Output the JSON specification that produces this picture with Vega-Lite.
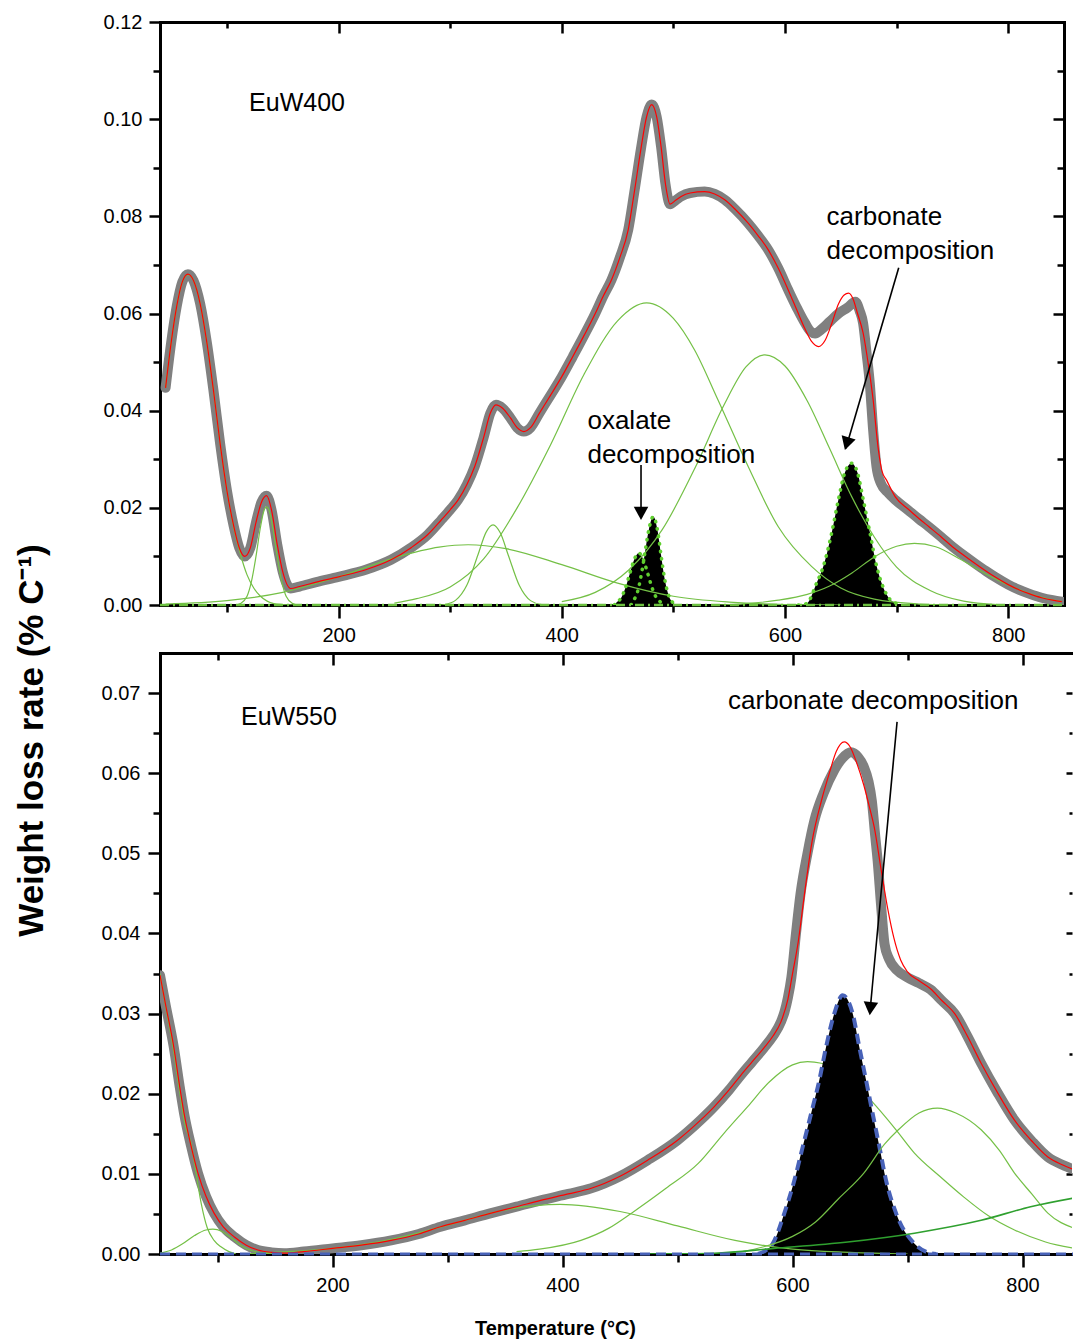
{
"$schema":"https://vega.github.io/schema/vega-lite/v6.json",
"padding":{"left":13,"top":12,"right":0,"bottom":4},
"background":"white",
"config":{
 "view":{"stroke":null},
 "axis":{"grid":false,"zindex":1,"domainColor":"black","domainWidth":3,"domainCap":"square","tickColor":"black","tickWidth":2.5,"labelFont":"Liberation Sans","labelFontSize":20,"labelColor":"black","labelFlush":false,"labelOverlap":false,"titleFont":"Liberation Sans","titleColor":"black"},
 "text":{"font":"Liberation Sans","color":"black"}
},
"spacing":48,
"bounds":"flush",
"datasets":{
 "tGrey":[{"x":45,"y":0.0447},{"x":50,"y":0.054},{"x":55,"y":0.0615},{"x":60,"y":0.0665},{"x":65,"y":0.0681},{"x":70,"y":0.0668},{"x":76,"y":0.062},{"x":82,"y":0.054},{"x":88,"y":0.044},{"x":94,"y":0.033},{"x":100,"y":0.0235},{"x":106,"y":0.0163},{"x":111,"y":0.0118},{"x":116,"y":0.0100},{"x":121,"y":0.0118},{"x":126,"y":0.0170},{"x":131,"y":0.0212},{"x":135.5,"y":0.0225},{"x":140,"y":0.0195},{"x":145,"y":0.0125},{"x":150,"y":0.0068},{"x":157,"y":0.0034},{"x":165,"y":0.0038},{"x":180,"y":0.0047},{"x":200,"y":0.0058},{"x":225,"y":0.0073},{"x":247,"y":0.0093},{"x":265,"y":0.0118},{"x":280,"y":0.0145},{"x":292,"y":0.0175},{"x":300,"y":0.0196},{"x":307,"y":0.0216},{"x":315,"y":0.0248},{"x":322,"y":0.0285},{"x":330,"y":0.0345},{"x":336,"y":0.0395},{"x":341,"y":0.0412},{"x":347,"y":0.0405},{"x":354,"y":0.0385},{"x":360,"y":0.0365},{"x":366,"y":0.0357},{"x":372,"y":0.0365},{"x":380,"y":0.0395},{"x":390,"y":0.0432},{"x":400,"y":0.0470},{"x":410,"y":0.0512},{"x":420,"y":0.0555},{"x":430,"y":0.0600},{"x":437,"y":0.0635},{"x":444.5,"y":0.0669},{"x":452,"y":0.0715},{"x":459.5,"y":0.0772},{"x":465,"y":0.085},{"x":471,"y":0.094},{"x":476,"y":0.1005},{"x":480.5,"y":0.1030},{"x":485,"y":0.1005},{"x":489,"y":0.0943},{"x":493,"y":0.0865},{"x":497,"y":0.0825},{"x":502,"y":0.0833},{"x":507,"y":0.0841},{"x":515,"y":0.0848},{"x":528,"y":0.0851},{"x":537,"y":0.0846},{"x":546,"y":0.0834},{"x":556,"y":0.0813},{"x":567,"y":0.0786},{"x":576,"y":0.0760},{"x":585,"y":0.0731},{"x":594,"y":0.0693},{"x":603,"y":0.0648},{"x":611,"y":0.0610},{"x":618,"y":0.0580},{"x":623,"y":0.0563},{"x":627,"y":0.0559},{"x":633,"y":0.0568},{"x":640,"y":0.0583},{"x":648,"y":0.0600},{"x":656,"y":0.0612},{"x":663,"y":0.0624},{"x":667,"y":0.0605},{"x":670,"y":0.058},{"x":673,"y":0.052},{"x":676,"y":0.0456},{"x":679,"y":0.036},{"x":682,"y":0.0285},{"x":686,"y":0.0250},{"x":692,"y":0.0232},{"x":699,"y":0.0216},{"x":710,"y":0.0196},{"x":720,"y":0.0177},{"x":729,"y":0.0161},{"x":740,"y":0.0140},{"x":750,"y":0.0120},{"x":758,"y":0.0106},{"x":770,"y":0.0086},{"x":780,"y":0.0070},{"x":788,"y":0.0058},{"x":800,"y":0.0042},{"x":810,"y":0.0031},{"x":818,"y":0.0024},{"x":830,"y":0.0015},{"x":840,"y":0.0010},{"x":848,"y":0.0007}],
 "tRed":[{"x":45,"y":0.0447},{"x":50,"y":0.054},{"x":55,"y":0.0615},{"x":60,"y":0.0665},{"x":65,"y":0.0681},{"x":70,"y":0.0668},{"x":76,"y":0.062},{"x":82,"y":0.054},{"x":88,"y":0.044},{"x":94,"y":0.033},{"x":100,"y":0.0235},{"x":106,"y":0.0163},{"x":111,"y":0.0118},{"x":116,"y":0.0100},{"x":121,"y":0.0118},{"x":126,"y":0.0170},{"x":131,"y":0.0212},{"x":135.5,"y":0.0225},{"x":140,"y":0.0195},{"x":145,"y":0.0125},{"x":150,"y":0.0068},{"x":157,"y":0.0034},{"x":165,"y":0.0038},{"x":180,"y":0.0047},{"x":200,"y":0.0058},{"x":225,"y":0.0073},{"x":247,"y":0.0093},{"x":265,"y":0.0118},{"x":280,"y":0.0145},{"x":292,"y":0.0175},{"x":300,"y":0.0196},{"x":307,"y":0.0216},{"x":315,"y":0.0248},{"x":322,"y":0.0285},{"x":330,"y":0.0345},{"x":336,"y":0.0395},{"x":341,"y":0.0412},{"x":347,"y":0.0405},{"x":354,"y":0.0385},{"x":360,"y":0.0365},{"x":366,"y":0.0357},{"x":372,"y":0.0365},{"x":380,"y":0.0395},{"x":390,"y":0.0432},{"x":400,"y":0.0470},{"x":410,"y":0.0512},{"x":420,"y":0.0555},{"x":430,"y":0.0600},{"x":437,"y":0.0635},{"x":444.5,"y":0.0669},{"x":452,"y":0.0715},{"x":459.5,"y":0.0772},{"x":465,"y":0.085},{"x":471,"y":0.094},{"x":476,"y":0.1005},{"x":480.5,"y":0.1030},{"x":485,"y":0.1005},{"x":489,"y":0.0943},{"x":493,"y":0.0865},{"x":497,"y":0.0825},{"x":502,"y":0.0833},{"x":507,"y":0.0841},{"x":515,"y":0.0848},{"x":528,"y":0.0851},{"x":537,"y":0.0846},{"x":546,"y":0.0834},{"x":556,"y":0.0813},{"x":567,"y":0.0786},{"x":576,"y":0.0760},{"x":585,"y":0.0731},{"x":594,"y":0.0693},{"x":603,"y":0.0648},{"x":611,"y":0.0605},{"x":618,"y":0.0568},{"x":624,"y":0.0542},{"x":630,"y":0.0532},{"x":636,"y":0.0545},{"x":642,"y":0.0580},{"x":648,"y":0.0620},{"x":653,"y":0.0638},{"x":657,"y":0.0642},{"x":661,"y":0.0630},{"x":665,"y":0.0600},{"x":670,"y":0.0560},{"x":675,"y":0.0490},{"x":679,"y":0.0422},{"x":683.7,"y":0.0319},{"x":687,"y":0.0275},{"x":691,"y":0.0257},{"x":699,"y":0.0222},{"x":710,"y":0.0198},{"x":720,"y":0.0178},{"x":729,"y":0.0161},{"x":740,"y":0.0140},{"x":750,"y":0.0120},{"x":758,"y":0.0106},{"x":770,"y":0.0086},{"x":780,"y":0.0070},{"x":788,"y":0.0058},{"x":800,"y":0.0042},{"x":810,"y":0.0031},{"x":818,"y":0.0024},{"x":830,"y":0.0015},{"x":840,"y":0.0010},{"x":848,"y":0.0007}],
 "tGreen":[
  {"g":"G1","x":45,"y":0.0447},{"g":"G1","x":50,"y":0.054},{"g":"G1","x":55,"y":0.0615},{"g":"G1","x":60,"y":0.0665},{"g":"G1","x":65,"y":0.068},{"g":"G1","x":70,"y":0.0668},{"g":"G1","x":76,"y":0.062},{"g":"G1","x":82,"y":0.054},{"g":"G1","x":88,"y":0.044},{"g":"G1","x":94,"y":0.033},{"g":"G1","x":100,"y":0.0235},{"g":"G1","x":106,"y":0.016},{"g":"G1","x":112,"y":0.0105},{"g":"G1","x":118,"y":0.0062},{"g":"G1","x":124,"y":0.0035},{"g":"G1","x":130,"y":0.0018},{"g":"G1","x":136,"y":0.0008},{"g":"G1","x":142,"y":0.0003},{"g":"G1","x":150,"y":0.0001},{"g":"G1","x":160,"y":0},
  {"g":"G2","x":108,"y":0},{"g":"G2","x":112,"y":0.0003},{"g":"G2","x":118,"y":0.0018},{"g":"G2","x":122,"y":0.0049},{"g":"G2","x":126,"y":0.0100},{"g":"G2","x":130,"y":0.0160},{"g":"G2","x":133,"y":0.0193},{"g":"G2","x":135.5,"y":0.0202},{"g":"G2","x":138,"y":0.0193},{"g":"G2","x":141,"y":0.0160},{"g":"G2","x":145,"y":0.0100},{"g":"G2","x":149,"y":0.0049},{"g":"G2","x":153,"y":0.0018},{"g":"G2","x":159,"y":0.0003},{"g":"G2","x":163,"y":0},
  {"g":"G3","x":45,"y":0.0002},{"g":"G3","x":100,"y":0.0009},{"g":"G3","x":150,"y":0.0026},{"g":"G3","x":200,"y":0.0058},{"g":"G3","x":250,"y":0.0097},{"g":"G3","x":290,"y":0.0119},{"g":"G3","x":316,"y":0.0124},{"g":"G3","x":350,"y":0.0116},{"g":"G3","x":400,"y":0.0083},{"g":"G3","x":450,"y":0.0045},{"g":"G3","x":500,"y":0.0018},{"g":"G3","x":550,"y":0.0006},{"g":"G3","x":600,"y":0.0001},{"g":"G3","x":650,"y":0},
  {"g":"G4","x":290,"y":0},{"g":"G4","x":295,"y":0.0001},{"g":"G4","x":305,"y":0.001},{"g":"G4","x":315,"y":0.0041},{"g":"G4","x":325,"y":0.0104},{"g":"G4","x":332,"y":0.0149},{"g":"G4","x":338.4,"y":0.0165},{"g":"G4","x":345,"y":0.0148},{"g":"G4","x":352,"y":0.0103},{"g":"G4","x":362,"y":0.004},{"g":"G4","x":372,"y":0.0009},{"g":"G4","x":382,"y":0.0001},{"g":"G4","x":390,"y":0},
  {"g":"G5","x":250,"y":0.0004},{"g":"G5","x":270,"y":0.0013},{"g":"G5","x":300,"y":0.0037},{"g":"G5","x":330,"y":0.0095},{"g":"G5","x":360,"y":0.020},{"g":"G5","x":390,"y":0.033},{"g":"G5","x":420,"y":0.0475},{"g":"G5","x":450,"y":0.0585},{"g":"G5","x":476,"y":0.0622},{"g":"G5","x":500,"y":0.0590},{"g":"G5","x":519,"y":0.0525},{"g":"G5","x":540,"y":0.0422},{"g":"G5","x":567,"y":0.0285},{"g":"G5","x":594,"y":0.0161},{"g":"G5","x":624,"y":0.0079},{"g":"G5","x":650,"y":0.0035},{"g":"G5","x":680,"y":0.0012},{"g":"G5","x":720,"y":0.0002},{"g":"G5","x":750,"y":0},
  {"g":"G6","x":400,"y":0.0007},{"g":"G6","x":430,"y":0.0026},{"g":"G6","x":460,"y":0.0072},{"g":"G6","x":490,"y":0.0155},{"g":"G6","x":520,"y":0.0285},{"g":"G6","x":545,"y":0.041},{"g":"G6","x":565,"y":0.0490},{"g":"G6","x":582,"y":0.0515},{"g":"G6","x":600,"y":0.0492},{"g":"G6","x":620,"y":0.0420},{"g":"G6","x":640,"y":0.0322},{"g":"G6","x":660,"y":0.0222},{"g":"G6","x":680,"y":0.0140},{"g":"G6","x":700,"y":0.0078},{"g":"G6","x":730,"y":0.003},{"g":"G6","x":760,"y":0.0008},{"g":"G6","x":790,"y":0.0001},
  {"g":"G7","x":540,"y":0},{"g":"G7","x":560,"y":0.0002},{"g":"G7","x":594,"y":0.001},{"g":"G7","x":620,"y":0.0022},{"g":"G7","x":640,"y":0.0039},{"g":"G7","x":660,"y":0.0066},{"g":"G7","x":680,"y":0.0099},{"g":"G7","x":700,"y":0.0121},{"g":"G7","x":716,"y":0.0127},{"g":"G7","x":735,"y":0.0120},{"g":"G7","x":758,"y":0.0093},{"g":"G7","x":780,"y":0.0064},{"g":"G7","x":803,"y":0.0038},{"g":"G7","x":825,"y":0.0019},{"g":"G7","x":848,"y":0.0007}
 ],
 "tPeaks":[
  {"g":"ox1","x":447,"y":0},{"g":"ox1","x":449,"y":0.0005},{"g":"ox1","x":453,"y":0.0014},{"g":"ox1","x":457,"y":0.0035},{"g":"ox1","x":461,"y":0.0065},{"g":"ox1","x":465,"y":0.0094},{"g":"ox1","x":469,"y":0.0107},{"g":"ox1","x":473,"y":0.0094},{"g":"ox1","x":477,"y":0.0065},{"g":"ox1","x":481,"y":0.0035},{"g":"ox1","x":485,"y":0.0014},{"g":"ox1","x":489,"y":0.0005},{"g":"ox1","x":491,"y":0},
  {"g":"ox2","x":462,"y":0},{"g":"ox2","x":464,"y":0.0008},{"g":"ox2","x":468,"y":0.0028},{"g":"ox2","x":472,"y":0.0072},{"g":"ox2","x":475,"y":0.0115},{"g":"ox2","x":478,"y":0.0155},{"g":"ox2","x":482,"y":0.0182},{"g":"ox2","x":486,"y":0.0151},{"g":"ox2","x":489,"y":0.0102},{"g":"ox2","x":492,"y":0.0056},{"g":"ox2","x":496,"y":0.0018},{"g":"ox2","x":500,"y":0.0004},{"g":"ox2","x":502,"y":0},
  {"g":"carb","x":612,"y":0},{"g":"carb","x":619.4,"y":0.0003},{"g":"carb","x":628.3,"y":0.0045},{"g":"carb","x":634.3,"y":0.0079},{"g":"carb","x":641.8,"y":0.0148},{"g":"carb","x":647.8,"y":0.0216},{"g":"carb","x":653,"y":0.0268},{"g":"carb","x":659.7,"y":0.0292},{"g":"carb","x":665,"y":0.0272},{"g":"carb","x":670.2,"y":0.0216},{"g":"carb","x":676.2,"y":0.0148},{"g":"carb","x":682.2,"y":0.0079},{"g":"carb","x":686.6,"y":0.0045},{"g":"carb","x":692,"y":0.0018},{"g":"carb","x":700,"y":0.0003},{"g":"carb","x":705,"y":0}
 ],
 "tBase":[{"x":40,"y":0},{"x":850,"y":0}],
 "tLabel":[{"x":119.8,"y":0.1033,"t":"EuW400"}],
 "tNotes":[{"x":423,"y":0.0379,"t":"oxalate"},{"x":423,"y":0.0309,"t":"decomposition"},{"x":637.3,"y":0.0799,"t":"carbonate"},{"x":637.3,"y":0.0729,"t":"decomposition"}],
 "tArrows":[{"x":471,"y":0.0288,"x2":471,"y2":0.0180},{"x":701.9,"y":0.0694,"x2":654.5,"y2":0.0322}],
 "tHead1":[{"x":471,"y":0.0175}],
 "tHead2":[{"x":653.7,"y":0.0319}],
 "bGrey":[{"x":50,"y":0.0348},{"x":55,"y":0.031},{"x":62,"y":0.0258},{"x":67,"y":0.021},{"x":71,"y":0.0175},{"x":77,"y":0.0135},{"x":83,"y":0.0101},{"x":90,"y":0.0072},{"x":97,"y":0.0051},{"x":105,"y":0.0034},{"x":115,"y":0.0021},{"x":125,"y":0.0011},{"x":135,"y":0.0005},{"x":147,"y":0.0002},{"x":158,"y":0.0001},{"x":175,"y":0.0003},{"x":200,"y":0.0007},{"x":225,"y":0.0011},{"x":251,"y":0.0017},{"x":275,"y":0.0025},{"x":294,"y":0.0034},{"x":315,"y":0.0042},{"x":338,"y":0.0051},{"x":360,"y":0.0059},{"x":381,"y":0.0067},{"x":405,"y":0.0075},{"x":425,"y":0.0082},{"x":450,"y":0.0097},{"x":474,"y":0.0117},{"x":500,"y":0.0142},{"x":520,"y":0.0167},{"x":532,"y":0.0184},{"x":545,"y":0.0205},{"x":555,"y":0.0223},{"x":565,"y":0.0240},{"x":575,"y":0.0257},{"x":583,"y":0.0272},{"x":590,"y":0.029},{"x":593,"y":0.0302},{"x":596,"y":0.032},{"x":599,"y":0.0345},{"x":603,"y":0.040},{"x":607,"y":0.045},{"x":613,"y":0.050},{"x":619,"y":0.0541},{"x":627,"y":0.0575},{"x":636,"y":0.0603},{"x":643,"y":0.0618},{"x":651,"y":0.0626},{"x":657,"y":0.0620},{"x":662,"y":0.0608},{"x":666,"y":0.0590},{"x":669,"y":0.0565},{"x":672,"y":0.052},{"x":674,"y":0.0491},{"x":677,"y":0.0435},{"x":680,"y":0.0387},{"x":684,"y":0.0368},{"x":691,"y":0.0354},{"x":700,"y":0.0345},{"x":710,"y":0.0338},{"x":720,"y":0.0330},{"x":730,"y":0.0316},{"x":741,"y":0.0300},{"x":752,"y":0.0272},{"x":764,"y":0.0238},{"x":778,"y":0.0202},{"x":793,"y":0.0167},{"x":808,"y":0.0141},{"x":822,"y":0.0121},{"x":835,"y":0.0111},{"x":845,"y":0.0105}],
 "bRed":[{"x":50,"y":0.0348},{"x":55,"y":0.031},{"x":62,"y":0.0258},{"x":67,"y":0.021},{"x":71,"y":0.0175},{"x":77,"y":0.0135},{"x":83,"y":0.0101},{"x":90,"y":0.0072},{"x":97,"y":0.0051},{"x":105,"y":0.0034},{"x":115,"y":0.0021},{"x":125,"y":0.0011},{"x":135,"y":0.0005},{"x":147,"y":0.0002},{"x":158,"y":0.0001},{"x":175,"y":0.0003},{"x":200,"y":0.0007},{"x":225,"y":0.0011},{"x":251,"y":0.0017},{"x":275,"y":0.0025},{"x":294,"y":0.0034},{"x":315,"y":0.0042},{"x":338,"y":0.0051},{"x":360,"y":0.0059},{"x":381,"y":0.0067},{"x":405,"y":0.0075},{"x":425,"y":0.0082},{"x":450,"y":0.0097},{"x":474,"y":0.0117},{"x":500,"y":0.0142},{"x":520,"y":0.0167},{"x":532,"y":0.0184},{"x":545,"y":0.0205},{"x":555,"y":0.0223},{"x":565,"y":0.0240},{"x":575,"y":0.0257},{"x":583,"y":0.0272},{"x":590,"y":0.029},{"x":596,"y":0.0318},{"x":600,"y":0.035},{"x":605,"y":0.039},{"x":610,"y":0.0445},{"x":617,"y":0.0515},{"x":625,"y":0.0565},{"x":632,"y":0.060},{"x":638,"y":0.0627},{"x":645,"y":0.0639},{"x":650,"y":0.0633},{"x":656,"y":0.0612},{"x":662,"y":0.0585},{"x":667,"y":0.0557},{"x":671,"y":0.0533},{"x":677,"y":0.048},{"x":683,"y":0.0429},{"x":688,"y":0.0395},{"x":694,"y":0.0367},{"x":700,"y":0.0352},{"x":710,"y":0.0341},{"x":720,"y":0.0331},{"x":730,"y":0.0316},{"x":741,"y":0.0300},{"x":752,"y":0.0272},{"x":764,"y":0.0238},{"x":778,"y":0.0202},{"x":793,"y":0.0167},{"x":808,"y":0.0141},{"x":822,"y":0.0121},{"x":835,"y":0.0111},{"x":845,"y":0.0105}],
 "bGreenUnder":[{"x":360,"y":0.0003},{"x":380,"y":0.0006},{"x":416,"y":0.0017},{"x":440,"y":0.0032},{"x":460,"y":0.0051},{"x":490,"y":0.0082},{"x":518,"y":0.0113},{"x":540,"y":0.0150},{"x":561,"y":0.0184},{"x":580,"y":0.0215},{"x":600,"y":0.0236},{"x":613,"y":0.0240},{"x":625,"y":0.0238},{"x":645,"y":0.0225},{"x":668,"y":0.0192},{"x":690,"y":0.0155},{"x":706,"y":0.0126},{"x":728,"y":0.0097},{"x":749,"y":0.0071},{"x":770,"y":0.0048},{"x":793,"y":0.0030},{"x":820,"y":0.0015},{"x":845,"y":0.0007}],
 "bGreen":[
  {"g":"B1","x":50,"y":0.035},{"g":"B1","x":55,"y":0.0308},{"g":"B1","x":62,"y":0.0252},{"g":"B1","x":67,"y":0.0203},{"g":"B1","x":72,"y":0.0160},{"g":"B1","x":77,"y":0.0138},{"g":"B1","x":81,"y":0.0104},{"g":"B1","x":86,"y":0.0062},{"g":"B1","x":91,"y":0.0033},{"g":"B1","x":97,"y":0.0017},{"g":"B1","x":103,"y":0.0009},{"g":"B1","x":110,"y":0.0003},{"g":"B1","x":116,"y":0},
  {"g":"B2","x":50,"y":0.0001},{"g":"B2","x":60,"y":0.0005},{"g":"B2","x":70,"y":0.0013},{"g":"B2","x":80,"y":0.0023},{"g":"B2","x":90,"y":0.0030},{"g":"B2","x":96,"y":0.0031},{"g":"B2","x":104,"y":0.0028},{"g":"B2","x":112,"y":0.0020},{"g":"B2","x":120,"y":0.0011},{"g":"B2","x":130,"y":0.0004},{"g":"B2","x":140,"y":0.0001},{"g":"B2","x":150,"y":0},
  {"g":"B3","x":120,"y":0},{"g":"B3","x":150,"y":0.0002},{"g":"B3","x":200,"y":0.0007},{"g":"B3","x":250,"y":0.0018},{"g":"B3","x":300,"y":0.0036},{"g":"B3","x":350,"y":0.0055},{"g":"B3","x":398,"y":0.0062},{"g":"B3","x":450,"y":0.0053},{"g":"B3","x":500,"y":0.0035},{"g":"B3","x":550,"y":0.0017},{"g":"B3","x":600,"y":0.0006},{"g":"B3","x":650,"y":0.0002},{"g":"B3","x":700,"y":0},
  {"g":"B5","x":540,"y":0.0001},{"g":"B5","x":560,"y":0.0004},{"g":"B5","x":575,"y":0.0009},{"g":"B5","x":600,"y":0.0022},{"g":"B5","x":620,"y":0.0040},{"g":"B5","x":640,"y":0.0069},{"g":"B5","x":662,"y":0.0101},{"g":"B5","x":680,"y":0.0137},{"g":"B5","x":692,"y":0.0155},{"g":"B5","x":710,"y":0.0176},{"g":"B5","x":726,"y":0.0182},{"g":"B5","x":742,"y":0.0176},{"g":"B5","x":764,"y":0.0155},{"g":"B5","x":780,"y":0.0129},{"g":"B5","x":793,"y":0.0101},{"g":"B5","x":808,"y":0.0075},{"g":"B5","x":822,"y":0.0051},{"g":"B5","x":845,"y":0.0032}
 ],
 "bGreenDark":[{"x":470,"y":0},{"x":500,"y":0.00003},{"x":532,"y":0.0001},{"x":584,"y":0.0007},{"x":648,"y":0.0015},{"x":706,"y":0.0026},{"x":764,"y":0.0042},{"x":807,"y":0.0059},{"x":845,"y":0.0070}],
 "bPeak":[{"x":570,"y":0},{"x":575,"y":0.0003},{"x":582.8,"y":0.0013},{"x":592.9,"y":0.0051},{"x":601.6,"y":0.0092},{"x":608.9,"y":0.0134},{"x":616.1,"y":0.0175},{"x":623.3,"y":0.0217},{"x":629.1,"y":0.0258},{"x":636.3,"y":0.030},{"x":643.6,"y":0.0323},{"x":652.3,"y":0.030},{"x":658.1,"y":0.0258},{"x":663.9,"y":0.0217},{"x":669.7,"y":0.0175},{"x":675.5,"y":0.0134},{"x":681.3,"y":0.0092},{"x":690,"y":0.0051},{"x":705.9,"y":0.0013},{"x":717.6,"y":0.0002},{"x":725,"y":0}],
 "bBase":[{"x":50,"y":0},{"x":845,"y":0}],
 "bLabel":[{"x":120.4,"y":0.067,"t":"EuW550"}],
 "bNotes":[{"x":543.9,"y":0.069,"t":"carbonate decomposition"}],
 "bArrow":[{"x":690.9,"y":0.0664,"x2":667.3,"y2":0.0302}],
 "bHead":[{"x":667.1,"y":0.0298}]
},
"vconcat":[
 {
  "width":904,"height":583,
  "resolve":{"axis":{"x":"independent","y":"independent"}},
  "layer":[
   {"data":{"name":"tPeaks"},"mark":{"type":"area","color":"black","interpolate":"monotone","clip":true},
    "encoding":{
     "x":{"field":"x","type":"quantitative","scale":{"domain":[40,850],"nice":false,"zero":false},"axis":{"orient":"bottom","values":[100,300,500,700],"tickSize":7,"labels":false,"domain":false,"title":null}},
     "y":{"field":"y","type":"quantitative","stack":null,"scale":{"domain":[0,0.12],"nice":false,"zero":false},"axis":{"orient":"left","values":[0.01,0.03,0.05,0.07,0.09,0.11],"tickSize":7,"labels":false,"domain":false,"title":null}},
     "detail":{"field":"g"}}},
   {"data":{"name":"tGrey"},"mark":{"type":"line","color":"#808080","strokeWidth":10,"strokeCap":"round","strokeJoin":"round","interpolate":"monotone","clip":true},
    "encoding":{
     "x":{"field":"x","type":"quantitative","scale":{"domain":[40,850],"nice":false,"zero":false},"axis":{"orient":"top","values":[200,400,600,800],"tickSize":-11,"labels":false,"title":null}},
     "y":{"field":"y","type":"quantitative","scale":{"domain":[0,0.12],"nice":false,"zero":false},"axis":{"orient":"right","values":[0.02,0.04,0.06,0.08,0.1],"tickSize":-11,"labels":false,"title":null}}}},
   {"data":{"name":"tGreen"},"mark":{"type":"line","color":"#74c046","strokeWidth":1.2,"interpolate":"monotone","clip":true},
    "encoding":{
     "x":{"field":"x","type":"quantitative","scale":{"domain":[40,850],"nice":false,"zero":false},"axis":{"orient":"top","values":[100,300,500,700],"tickSize":-6,"labels":false,"domain":false,"title":null}},
     "y":{"field":"y","type":"quantitative","scale":{"domain":[0,0.12],"nice":false,"zero":false},"axis":{"orient":"right","values":[0.01,0.03,0.05,0.07,0.09,0.11],"tickSize":-7,"labels":false,"domain":false,"title":null}},
     "detail":{"field":"g"}}},
   {"data":{"name":"tRed"},"mark":{"type":"line","color":"#ff0000","strokeWidth":1.2,"interpolate":"monotone","clip":true},
    "encoding":{
     "x":{"field":"x","type":"quantitative","scale":{"domain":[40,850],"nice":false,"zero":false},"axis":{"orient":"bottom","values":[200,400,600,800],"tickSize":13,"labelPadding":7,"title":null}},
     "y":{"field":"y","type":"quantitative","scale":{"domain":[0,0.12],"nice":false,"zero":false},"axis":{"orient":"left","values":[0,0.02,0.04,0.06,0.08,0.1,0.12],"format":".2f","tickSize":11,"labelPadding":7,"title":null}}}},
   {"data":{"name":"tPeaks"},"mark":{"type":"line","color":"#5fcf2f","strokeWidth":3.5,"strokeDash":[0.5,7],"strokeCap":"round","interpolate":"monotone","clip":true},
    "encoding":{
     "x":{"field":"x","type":"quantitative","scale":{"domain":[40,850],"nice":false,"zero":false},"axis":null},
     "y":{"field":"y","type":"quantitative","scale":{"domain":[0,0.12],"nice":false,"zero":false},"axis":null},
     "detail":{"field":"g"}}},
   {"data":{"name":"tBase"},"mark":{"type":"line","color":"#6cc040","strokeWidth":2.5,"strokeDash":[9,4,2,4]},
    "encoding":{
     "x":{"field":"x","type":"quantitative","scale":{"domain":[40,850],"nice":false,"zero":false},"axis":null},
     "y":{"field":"y","type":"quantitative","scale":{"domain":[0,0.12],"nice":false,"zero":false},"axis":null}}},
   {"data":{"name":"tArrows"},"mark":{"type":"rule","color":"black","strokeWidth":1.6},
    "encoding":{
     "x":{"field":"x","type":"quantitative","scale":{"domain":[40,850],"nice":false,"zero":false},"axis":null},
     "y":{"field":"y","type":"quantitative","scale":{"domain":[0,0.12],"nice":false,"zero":false},"axis":null},
     "x2":{"field":"x2"},"y2":{"field":"y2"}}},
   {"data":{"name":"tHead1"},"mark":{"type":"point","shape":"M 0 0 L -0.55 -1 L 0.55 -1 Z","filled":true,"color":"black","opacity":1,"size":700,"angle":0},
    "encoding":{
     "x":{"field":"x","type":"quantitative","scale":{"domain":[40,850],"nice":false,"zero":false},"axis":null},
     "y":{"field":"y","type":"quantitative","scale":{"domain":[0,0.12],"nice":false,"zero":false},"axis":null}}},
   {"data":{"name":"tHead2"},"mark":{"type":"point","shape":"M 0 0 L -0.55 -1 L 0.55 -1 Z","filled":true,"color":"black","opacity":1,"size":700,"angle":16.4},
    "encoding":{
     "x":{"field":"x","type":"quantitative","scale":{"domain":[40,850],"nice":false,"zero":false},"axis":null},
     "y":{"field":"y","type":"quantitative","scale":{"domain":[0,0.12],"nice":false,"zero":false},"axis":null}}},
   {"data":{"name":"tLabel"},"mark":{"type":"text","align":"left","baseline":"middle","fontSize":25,"font":"Liberation Sans"},
    "encoding":{
     "x":{"field":"x","type":"quantitative","scale":{"domain":[40,850],"nice":false,"zero":false},"axis":null},
     "y":{"field":"y","type":"quantitative","scale":{"domain":[0,0.12],"nice":false,"zero":false},"axis":null},
     "text":{"field":"t"}}},
   {"data":{"name":"tNotes"},"mark":{"type":"text","align":"left","baseline":"middle","fontSize":26,"font":"Liberation Sans"},
    "encoding":{
     "x":{"field":"x","type":"quantitative","scale":{"domain":[40,850],"nice":false,"zero":false},"axis":null},
     "y":{"field":"y","type":"quantitative","scale":{"domain":[0,0.12],"nice":false,"zero":false},"axis":null},
     "text":{"field":"t"}}}
  ]
 },
 {
  "width":912,"height":601,
  "resolve":{"axis":{"x":"independent","y":"independent"}},
  "layer":[
   {"data":{"name":"bGreenUnder"},"mark":{"type":"line","color":"#74c046","strokeWidth":1.2,"interpolate":"monotone","clip":true},
    "encoding":{
     "x":{"field":"x","type":"quantitative","scale":{"domain":[50,843],"nice":false,"zero":false},"axis":{"orient":"bottom","values":[100,300,500,700],"tickSize":8,"labels":false,"domain":false,"title":null}},
     "y":{"field":"y","type":"quantitative","scale":{"domain":[0,0.075],"nice":false,"zero":false},"axis":{"orient":"left","values":[0.005,0.015,0.025,0.035,0.045,0.055,0.065],"tickSize":7,"labels":false,"domain":false,"title":null}}}},
   {"data":{"name":"bPeak"},"mark":{"type":"area","color":"black","interpolate":"monotone","clip":true},
    "encoding":{
     "x":{"field":"x","type":"quantitative","scale":{"domain":[50,843],"nice":false,"zero":false},"axis":{"orient":"top","values":[200,400,600,800],"tickSize":-12,"labels":false,"title":null}},
     "y":{"field":"y","type":"quantitative","stack":null,"scale":{"domain":[0,0.075],"nice":false,"zero":false},"axis":{"orient":"right","values":[0.01,0.02,0.03,0.04,0.05,0.06,0.07],"tickSize":-6,"labels":false,"domain":false,"title":null}}}},
   {"data":{"name":"bPeak"},"mark":{"type":"line","color":"#4862b8","strokeWidth":4,"strokeDash":[10,6],"interpolate":"monotone","clip":true},
    "encoding":{
     "x":{"field":"x","type":"quantitative","scale":{"domain":[50,843],"nice":false,"zero":false},"axis":null},
     "y":{"field":"y","type":"quantitative","scale":{"domain":[0,0.075],"nice":false,"zero":false},"axis":null}}},
   {"data":{"name":"bGrey"},"mark":{"type":"line","color":"#808080","strokeWidth":10,"strokeCap":"round","strokeJoin":"round","interpolate":"monotone","clip":true},
    "encoding":{
     "x":{"field":"x","type":"quantitative","scale":{"domain":[50,843],"nice":false,"zero":false},"axis":{"orient":"top","values":[100,300,500,700],"tickSize":-7,"labels":false,"domain":false,"title":null}},
     "y":{"field":"y","type":"quantitative","scale":{"domain":[0,0.075],"nice":false,"zero":false},"axis":{"orient":"right","values":[0.005,0.015,0.025,0.035,0.045,0.055,0.065],"tickSize":-3,"labels":false,"domain":false,"title":null}}}},
   {"data":{"name":"bGreen"},"mark":{"type":"line","color":"#74c046","strokeWidth":1.2,"interpolate":"monotone","clip":true},
    "encoding":{
     "x":{"field":"x","type":"quantitative","scale":{"domain":[50,843],"nice":false,"zero":false},"axis":null},
     "y":{"field":"y","type":"quantitative","scale":{"domain":[0,0.075],"nice":false,"zero":false},"axis":null},
     "detail":{"field":"g"}}},
   {"data":{"name":"bGreenDark"},"mark":{"type":"line","color":"#2fa02f","strokeWidth":1.6,"interpolate":"monotone","clip":true},
    "encoding":{
     "x":{"field":"x","type":"quantitative","scale":{"domain":[50,843],"nice":false,"zero":false},"axis":null},
     "y":{"field":"y","type":"quantitative","scale":{"domain":[0,0.075],"nice":false,"zero":false},"axis":null}}},
   {"data":{"name":"bRed"},"mark":{"type":"line","color":"#ff0000","strokeWidth":1.2,"interpolate":"monotone","clip":true},
    "encoding":{
     "x":{"field":"x","type":"quantitative","scale":{"domain":[50,843],"nice":false,"zero":false},"axis":{"orient":"bottom","values":[200,400,600,800],"tickSize":13,"labelPadding":8,"title":"Temperature (°C)","titleFontSize":20,"titleFontWeight":"bold","titleX":395,"titleY":74,"titleBaseline":"middle","titleAlign":"center","titleAngle":0}},
     "y":{"field":"y","type":"quantitative","scale":{"domain":[0,0.075],"nice":false,"zero":false},"axis":{"orient":"left","values":[0,0.01,0.02,0.03,0.04,0.05,0.06,0.07],"format":".2f","tickSize":12,"labelPadding":8,"title":"Weight loss rate (%  C⁻¹)","titleFontSize":35,"titleFontWeight":"bold","titleX":-129,"titleY":87,"titleAngle":270,"titleBaseline":"middle","titleAlign":"center"}}}},
   {"data":{"name":"bBase"},"mark":{"type":"line","color":"#4862b8","strokeWidth":3,"strokeDash":[10,6]},
    "encoding":{
     "x":{"field":"x","type":"quantitative","scale":{"domain":[50,843],"nice":false,"zero":false},"axis":null},
     "y":{"field":"y","type":"quantitative","scale":{"domain":[0,0.075],"nice":false,"zero":false},"axis":null}}},
   {"data":{"name":"bArrow"},"mark":{"type":"rule","color":"black","strokeWidth":1.6},
    "encoding":{
     "x":{"field":"x","type":"quantitative","scale":{"domain":[50,843],"nice":false,"zero":false},"axis":null},
     "y":{"field":"y","type":"quantitative","scale":{"domain":[0,0.075],"nice":false,"zero":false},"axis":null},
     "x2":{"field":"x2"},"y2":{"field":"y2"}}},
   {"data":{"name":"bHead"},"mark":{"type":"point","shape":"M 0 0 L -0.55 -1 L 0.55 -1 Z","filled":true,"color":"black","opacity":1,"size":700,"angle":5.3},
    "encoding":{
     "x":{"field":"x","type":"quantitative","scale":{"domain":[50,843],"nice":false,"zero":false},"axis":null},
     "y":{"field":"y","type":"quantitative","scale":{"domain":[0,0.075],"nice":false,"zero":false},"axis":null}}},
   {"data":{"name":"bLabel"},"mark":{"type":"text","align":"left","baseline":"middle","fontSize":25,"font":"Liberation Sans"},
    "encoding":{
     "x":{"field":"x","type":"quantitative","scale":{"domain":[50,843],"nice":false,"zero":false},"axis":null},
     "y":{"field":"y","type":"quantitative","scale":{"domain":[0,0.075],"nice":false,"zero":false},"axis":null},
     "text":{"field":"t"}}},
   {"data":{"name":"bNotes"},"mark":{"type":"text","align":"left","baseline":"middle","fontSize":26,"font":"Liberation Sans"},
    "encoding":{
     "x":{"field":"x","type":"quantitative","scale":{"domain":[50,843],"nice":false,"zero":false},"axis":null},
     "y":{"field":"y","type":"quantitative","scale":{"domain":[0,0.075],"nice":false,"zero":false},"axis":null},
     "text":{"field":"t"}}}
  ]
 }
]
}
